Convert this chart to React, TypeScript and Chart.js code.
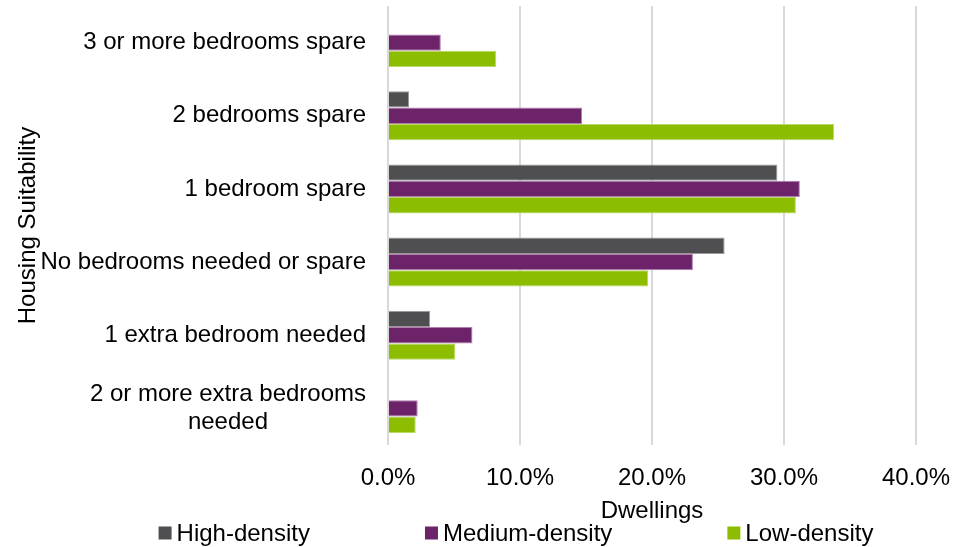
import React, { useEffect, useRef } from "react";
import { Chart, registerables } from "chart.js";

Chart.register(...registerables);

const categories: (string | string[])[] = [
  "3 or more bedrooms spare",
  "2 bedrooms spare",
  "1 bedroom spare",
  "No bedrooms needed or spare",
  "1 extra bedroom needed",
  ["2 or more extra bedrooms", "needed"],
];

const seriesNames = ["High-density", "Medium-density", "Low-density"];
const highDensity = [0, 1.6, 29.5, 25.5, 3.2, 0];
const mediumDensity = [4.0, 14.7, 31.2, 23.1, 6.4, 2.25];
const lowDensity = [8.2, 33.8, 30.9, 19.7, 5.1, 2.1];

const seriesColors = ["#4F4F51", "#6D236A", "#8CBD00"];
const seriesBorders = ["#9a9a9a", "#b07fae", "#b8d966"];

const xTicks = [0, 10, 20, 30, 40];
const xTitle = "Dwellings";
const yTitle = "Housing Suitability";

const FONT = "'Liberation Sans', Arial, sans-serif";
const FONT_SIZE = 24;
const TEXT_COLOR = "#000000";

const yLabelsPlugin = {
  id: "yLabels",
  afterDraw(chart: any) {
    const scale = chart.scales.y;
    const ctx = chart.ctx;
    ctx.save();
    ctx.font = `${FONT_SIZE}px ${FONT}`;
    ctx.fillStyle = TEXT_COLOR;
    ctx.textBaseline = "middle";
    const right = chart.chartArea.left - 22;
    const lineH = 28;
    categories.forEach((label, i) => {
      const y = scale.getPixelForTick(i);
      const lines = Array.isArray(label) ? label : [label];
      const widths = lines.map((l) => ctx.measureText(l).width);
      const maxW = Math.max(...widths);
      const cx = right - maxW / 2;
      const y0 = y - ((lines.length - 1) * lineH) / 2;
      lines.forEach((l, j) => {
        if (lines.length === 1) {
          ctx.textAlign = "right";
          ctx.fillText(l, right, y0 + j * lineH);
        } else {
          ctx.textAlign = "center";
          ctx.fillText(l, cx, y0 + j * lineH);
        }
      });
    });
    ctx.restore();
  },
};

const legendPlugin = {
  id: "customLegend",
  afterDraw(chart: any) {
    const ctx = chart.ctx;
    ctx.save();
    ctx.font = `${FONT_SIZE}px ${FONT}`;
    ctx.textBaseline = "middle";
    const box = 13;
    const boxGap = 5;
    const gap = 115;
    const centerX = 516;
    const y = chart.height - 14;
    const widths = seriesNames.map((n) => box + boxGap + ctx.measureText(n).width);
    const total = widths.reduce((a, b) => a + b, 0) + gap * (seriesNames.length - 1);
    let x = centerX - total / 2;
    seriesNames.forEach((n, i) => {
      ctx.fillStyle = seriesColors[i];
      ctx.fillRect(x, y - box / 2, box, box);
      ctx.fillStyle = TEXT_COLOR;
      ctx.textAlign = "left";
      ctx.fillText(n, x + box + boxGap, y + 1);
      x += widths[i] + gap;
    });
    ctx.restore();
  },
};

export default function App() {
  const canvasRef = useRef<HTMLCanvasElement | null>(null);

  useEffect(() => {
    if (!canvasRef.current) return;
    const data = [highDensity, mediumDensity, lowDensity];
    const chart = new Chart(canvasRef.current, {
      type: "bar",
      data: {
        labels: categories,
        datasets: seriesNames.map((name, i) => ({
          label: name,
          data: data[i],
          backgroundColor: seriesColors[i],
          borderColor: seriesBorders[i],
          borderWidth: 1,
          categoryPercentage: 0.67,
          barPercentage: 1,
        })),
      },
      options: {
        indexAxis: "y",
        animation: false,
        responsive: true,
        maintainAspectRatio: false,
        layout: { padding: { left: 0, right: 57, top: 6, bottom: 21 } },
        plugins: {
          legend: { display: false },
          tooltip: { enabled: false },
        },
        scales: {
          x: {
            min: 0,
            max: 40,
            afterBuildTicks: (scale: any) => {
              scale.ticks = xTicks.map((v) => ({ value: v }));
            },
            afterFit: (scale: any) => {
              scale.height = 81;
            },
            ticks: {
              callback: (v: any) => Number(v).toFixed(1) + "%",
              font: { family: FONT, size: FONT_SIZE },
              color: TEXT_COLOR,
              padding: 19,
              maxRotation: 0,
            },
            grid: { color: "#d9d9d9", lineWidth: 2, drawTicks: false },
            border: { display: false },
            title: {
              display: true,
              text: xTitle,
              font: { family: FONT, size: FONT_SIZE },
              color: TEXT_COLOR,
              padding: { top: 0, bottom: 0 },
            },
          },
          y: {
            ticks: { display: false },
            grid: { display: false },
            border: { display: false },
            afterFit: (scale: any) => {
              scale.width = 388;
            },
            title: {
              display: true,
              text: yTitle,
              font: { family: FONT, size: FONT_SIZE },
              color: TEXT_COLOR,
              padding: { top: 14, bottom: 0 },
            },
          },
        },
      },
      plugins: [yLabelsPlugin, legendPlugin],
    } as any);
    return () => chart.destroy();
  }, []);

  return (
    <div style={{ position: "absolute", left: 0, top: 0, width: 973, height: 547, background: "#ffffff" }}>
      <canvas ref={canvasRef} />
    </div>
  );
}
